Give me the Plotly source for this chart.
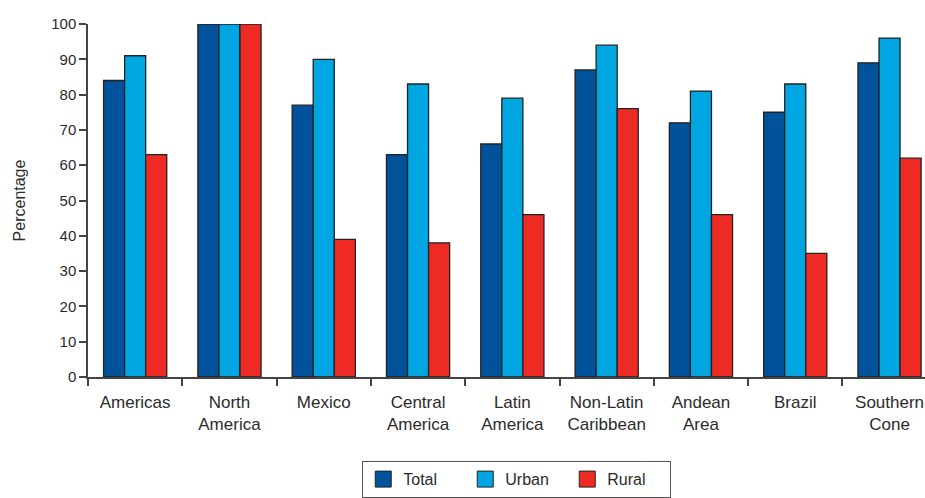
import plotly.graph_objects as go

regions = ["Americas", "North<br>America", "Mexico", "Central<br>America", "Latin<br>America",
           "Non-Latin<br>Caribbean", "Andean<br>Area", "Brazil", "Southern<br>Cone"]
total = [84, 100, 77, 63, 66, 87, 72, 75, 89]
urban = [91, 100, 90, 83, 79, 94, 81, 83, 96]
rural = [63, 100, 39, 38, 46, 76, 46, 35, 62]
y_ticks = [0, 10, 20, 30, 40, 50, 60, 70, 80, 90, 100]

FONT = "Liberation Sans, Arial, sans-serif"
TEXT = "#2b2b2b"
OUTLINE = "#222222"
series = [("Total", total, "#00529B"), ("Urban", urban, "#00A6E2"), ("Rural", rural, "#EE2A24")]

fig = go.Figure()
for name, vals, color in series:
    fig.add_trace(go.Bar(
        x=regions, y=vals, name=name, showlegend=False,
        marker=dict(color=color, line=dict(color=OUTLINE, width=1.3)),
    ))
# square legend swatches
for name, vals, color in series:
    fig.add_trace(go.Scatter(
        x=[None], y=[None], mode="markers", name=name, showlegend=True,
        marker=dict(symbol="square", size=16, color=color, line=dict(color=OUTLINE, width=1)),
    ))

fig.update_layout(
    width=925, height=498,
    margin=dict(l=88, r=0, t=24, b=120),
    paper_bgcolor="white", plot_bgcolor="white",
    barmode="group", bargap=0.33, bargroupgap=0,
    font=dict(family=FONT, size=16, color=TEXT),
    legend=dict(
        orientation="h", x=0.512, xanchor="center", y=-0.237, yanchor="top",
        bordercolor="#555555", borderwidth=1.2,
        font=dict(family=FONT, size=16, color=TEXT),
        itemwidth=30, entrywidth=57, entrywidthmode="pixels", traceorder="normal",
    ),
    xaxis=dict(
        type="category", range=[-0.5, 8.376], automargin=False,
        showline=True, linecolor="#444444", linewidth=1.5,
        ticks="outside", tickson="boundaries", ticklen=7, tickcolor="#444444", tickwidth=1.5,
        ticklabelstandoff=9,
        tickfont=dict(family=FONT, size=17, color=TEXT),
        showgrid=False,
    ),
    yaxis=dict(
        range=[0, 100], tickvals=y_ticks, automargin=False,
        showline=True, linecolor="#444444", linewidth=1.5,
        ticks="outside", ticklen=7, tickcolor="#444444", tickwidth=1.5,
        tickfont=dict(family=FONT, size=15, color=TEXT),
        showgrid=False, zeroline=False,
        title=dict(text="Percentage", font=dict(family=FONT, size=16, color=TEXT), standoff=22),
    ),
)

fig.write_html("out.html")
